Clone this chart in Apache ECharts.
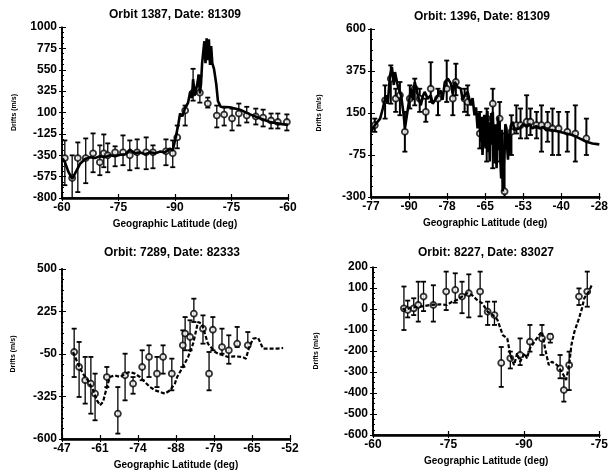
<!DOCTYPE html>
<html><head><meta charset="utf-8">
<script src="https://cdn.jsdelivr.net/npm/echarts@6/dist/echarts.min.js"></script>
<style>html,body{margin:0;padding:0;background:#fff}#c{width:611px;height:473px}</style>
</head><body><div id="c"></div>
<script>
// ---------- Panel 1 ----------
const p1Title = 'Orbit 1387, Date: 81309';
const p1XTicks = ['-60','-75','-90','-75','-60'];
const p1YRange = [-800, 1000, 225];
const p1Line = [[0,-380],[0.05,-420],[0.11,-520],[0.18,-600],[0.25,-520],[0.32,-440],[0.41,-390],[0.50,-370],[0.58,-380],[0.67,-360],[0.76,-370],[0.85,-350],[0.94,-360],[1.03,-345],[1.12,-340],[1.20,-290],[1.29,-330],[1.38,-320],[1.47,-340],[1.56,-320],[1.65,-330],[1.74,-310],[1.82,-320],[1.91,-280],[1.96,-300],[2.02,-140],[2.06,-20],[2.09,90],[2.13,60],[2.18,150],[2.23,200],[2.27,320],[2.30,250],[2.32,450],[2.35,280],[2.37,330],[2.40,420],[2.42,500],[2.44,300],[2.46,400],[2.48,620],[2.50,600],[2.52,850],[2.54,620],[2.56,880],[2.58,650],[2.60,870],[2.62,600],[2.64,800],[2.66,620],[2.69,560],[2.73,400],[2.76,220],[2.81,160],[2.97,155],[3.15,130],[3.33,80],[3.50,40],[3.68,0],[3.86,-20],[4.0,-30]];
const p1Bars = [[0.05,-380,-194,-665],[0.18,-590,-351,-800],[0.28,-380,-215,-738],[0.42,-380,-173,-644],[0.55,-330,-120,-529],[0.67,-424,-246,-560],[0.74,-330,-131,-476],[0.81,-351,-225,-529],[0.94,-319,-256,-466],[1.08,-319,-141,-455],[1.20,-351,-194,-508],[1.33,-319,-183,-487],[1.49,-319,-162,-497],[1.61,-319,-246,-487],[1.84,-309,-183,-455],[1.96,-330,-194,-476],[2.04,-162,-37,-277],[2.18,121,173,-37],[2.32,309,560,225],[2.44,309,487,204],[2.58,194,257,152],[2.74,68,173,-57],[2.87,78,152,-37],[3.01,37,141,-89],[3.13,89,194,-37],[3.27,68,160,-5],[3.43,58,141,-26],[3.56,47,130,-47],[3.70,16,89,-68],[3.82,0,89,-68],[3.98,0,80,-89]];

// ---------- Panel 2 ----------
const p2Title = 'Orbit: 1396, Date: 81309';
const p2XTicks = ['-77','-90','-78','-65','-53','-40','-28'];
const p2YRange = [-300, 600, 225];
const p2Line = [[0,49],[0.10,85],[0.24,120],[0.31,174],[0.39,245],[0.44,200],[0.50,351],[0.55,396],[0.60,300],[0.63,369],[0.71,289],[0.79,245],[0.86,138],[0.89,67],[0.97,174],[1.05,280],[1.10,220],[1.15,316],[1.23,245],[1.31,191],[1.36,240],[1.41,263],[1.49,227],[1.57,245],[1.62,200],[1.68,218],[1.76,245],[1.83,271],[1.88,220],[1.94,316],[2.02,334],[2.10,307],[2.15,250],[2.20,316],[2.28,289],[2.36,280],[2.41,220],[2.46,245],[2.54,263],[2.62,191],[2.67,230],[2.72,138],[2.76,180],[2.80,67],[2.84,150],[2.88,-4],[2.91,130],[2.93,-75],[2.96,110],[2.98,140],[3.01,-40],[3.04,120],[3.06,160],[3.08,-60],[3.10,100],[3.12,-110],[3.14,60],[3.16,150],[3.18,-20],[3.20,156],[3.22,40],[3.25,-120],[3.27,90],[3.30,-146],[3.32,40],[3.34,130],[3.36,-50],[3.38,103],[3.40,-100],[3.42,-200],[3.44,60],[3.46,-270],[3.48,-150],[3.51,-50],[3.53,90],[3.56,67],[3.58,-40],[3.60,-100],[3.62,40],[3.64,-75],[3.67,80],[3.72,103],[3.77,60],[3.82,67],[3.90,67],[4.00,90],[4.09,76],[4.17,90],[4.24,67],[4.34,80],[4.43,67],[4.52,75],[4.61,58],[4.77,58],[4.95,49],[5.13,40],[5.29,32],[5.48,14],[5.66,-4],[5.82,-13],[6.0,-18]];
const p2Bars = [[0.10,85,120,49],[0.37,218,298,120],[0.52,334,405,200],[0.65,227,280,156],[0.76,245,316,138],[0.89,49,156,-57],[1.02,227,298,174],[1.15,280,334,191],[1.28,227,280,156],[1.44,156,227,103],[1.57,280,422,209],[1.76,227,280,138],[1.99,280,431,209],[2.15,227,298,138],[2.23,316,414,245],[2.46,227,280,156],[2.54,209,298,138],[2.86,40,156,-40],[3.04,120,174,-110],[3.20,200,280,-146],[3.38,120,209,-110],[3.51,-270,40,-300],[3.69,49,138,-75],[3.82,85,191,40],[3.93,85,174,14],[4.09,103,245,14],[4.19,103,174,32],[4.35,85,156,14],[4.48,85,191,-57],[4.64,85,156,-4],[4.77,67,174,-75],[4.93,67,156,-75],[5.16,49,156,-57],[5.37,40,191,-110],[5.66,14,120,-75]];

// ---------- Panel 3 ----------
const p3Title = 'Orbit: 7289, Date: 82333';
const p3XTicks = ['-47','-61','-74','-88','-79','-65','-52'];
const p3YRange = [-600, 500, 275];
const p3Line = [[0.29,-37],[0.42,-113],[0.55,-177],[0.68,-220],[0.82,-285],[0.92,-350],[1.0,-382],[1.08,-360],[1.18,-264],[1.26,-199],[1.39,-188],[1.53,-199],[1.66,-177],[1.79,-166],[1.92,-177],[2.05,-199],[2.18,-231],[2.32,-264],[2.45,-285],[2.58,-296],[2.71,-307],[2.84,-285],[2.97,-242],[3.03,-199],[3.18,-134],[3.32,-69],[3.45,17],[3.58,157],[3.68,146],[3.76,82],[3.84,17],[3.95,-15],[4.03,-37],[4.11,-48],[4.24,-58],[4.37,-69],[4.55,-65],[4.74,-69],[4.84,-80],[4.92,-10],[5.03,50],[5.16,55],[5.29,-15],[5.47,-15],[5.66,-15],[5.82,-11]];
const p3Bars = [[0.32,-37,114,-199],[0.45,-134,28,-328],[0.61,-220,-69,-371],[0.76,-242,-69,-436],[0.87,-307,-177,-479],[1.18,-199,-134,-264],[1.47,-436,-264,-565],[1.66,-188,-48,-350],[1.87,-242,-199,-307],[2.11,-134,-26,-220],[2.29,-69,6,-199],[2.50,-177,-69,-264],[2.66,-69,6,-177],[2.89,-177,-80,-285],[3.18,6,103,-134],[3.24,82,189,-26],[3.37,60,168,-26],[3.47,211,308,157],[3.71,114,200,17],[3.87,-177,-37,-285],[3.97,107,189,-26],[4.21,-5,114,-48],[4.39,-26,71,-113],[4.61,17,125,-5],[4.89,6,92,-5]];

// ---------- Panel 4 ----------
const p4Title = 'Orbit: 8227, Date: 83027';
const p4XTicks = ['-60','-75','-90','-75'];
const p4YRange = [-600, 200, 100];
const p4Line = [[0.39,3],[0.43,-5],[0.50,6],[0.63,11],[0.76,19],[0.89,22],[0.98,19],[1.05,35],[1.11,43],[1.18,59],[1.25,75],[1.31,67],[1.38,43],[1.45,27],[1.52,-13],[1.59,-29],[1.65,-52],[1.72,-124],[1.78,-140],[1.82,-219],[1.87,-267],[1.91,-211],[1.95,-251],[2.01,-211],[2.04,-235],[2.08,-187],[2.14,-156],[2.20,-124],[2.24,-108],[2.28,-187],[2.33,-267],[2.37,-251],[2.44,-267],[2.50,-298],[2.56,-338],[2.60,-267],[2.63,-171],[2.67,-108],[2.73,-45],[2.77,3],[2.80,51],[2.86,83],[2.90,114]];
const p4Bars = [[0.41,3,107,-100],[0.46,-5,40,-40],[0.54,3,51,-29],[0.60,19,130,-60],[0.67,59,130,-10],[0.80,19,113,-60],[0.97,83,178,-5],[1.09,91,170,30],[1.18,59,130,-20],[1.27,75,165,-40],[1.42,83,178,-35],[1.52,-13,35,-76],[1.61,-29,35,-76],[1.70,-257,-181,-371],[1.82,-235,-203,-283],[1.95,-219,-140,-267],[2.08,-156,-76,-203],[2.24,-140,-76,-219],[2.35,-132,-120,-160],[2.48,-283,-219,-330],[2.53,-386,-330,-441],[2.60,-267,-203,-386],[2.73,59,98,19],[2.84,83,178,11]];

const panels = [
  {title:p1Title, xt:p1XTicks, yr:p1YRange, line:p1Line, bars:p1Bars, box:[62,27,226,171], tx:175, ty:15, yGap:44, dash:false, rightDot:true, leftDot:false, bw:1.3},
  {title:p2Title, xt:p2XTicks, yr:p2YRange, line:p2Line, bars:p2Bars, box:[371,29,229,168], tx:482, ty:17, yGap:48, dash:false, rightDot:false, leftDot:false, bw:2},
  {title:p3Title, xt:p3XTicks, yr:p3YRange, line:p3Line, bars:p3Bars, box:[62,269,228,170], tx:172, ty:253, yGap:45, dash:true, rightDot:true, leftDot:true, bw:1.3},
  {title:p4Title, xt:p4XTicks, yr:p4YRange, line:p4Line, bars:p4Bars, box:[373,267,229,168], tx:486, ty:253, yGap:53, dash:true, rightDot:true, leftDot:false, bw:1.3}
];

const FONT = "'Liberation Sans', Arial, sans-serif";
const grids=[], xAxes=[], yAxes=[], series=[], graphics=[];

function makeErr(bw){
  return function(params, api){
    const x = api.value(0);
    const hi = api.coord([x, api.value(1)]);
    const lo = api.coord([x, api.value(2)]);
    const w = 2.5;
    return {type:'group', children:[
      {type:'line', shape:{x1:hi[0],y1:hi[1],x2:lo[0],y2:lo[1]}, style:{stroke:'#000', lineWidth:bw}},
      {type:'line', shape:{x1:hi[0]-w,y1:hi[1],x2:hi[0]+w,y2:hi[1]}, style:{stroke:'#000', lineWidth:1.8}},
      {type:'line', shape:{x1:lo[0]-w,y1:lo[1],x2:lo[0]+w,y2:lo[1]}, style:{stroke:'#000', lineWidth:1.8}}
    ]};
  };
}

panels.forEach((p,i)=>{
  const [l,t,w,h] = p.box;
  const yMin = p.yr[0], ySpan = p.yr[1]-p.yr[0], yStep = p.yr[2];
  const nX = p.xt.length-1;
  grids.push({left:l, top:t, width:w, height:h});
  const xt = p.xt;
  xAxes.push({type:'value', gridIndex:i, min:0, max:nX, interval:1, position:'bottom',
    axisLine:{lineStyle:{color:'#000', width:1.6}},
    axisTick:{inside:true, length:4, lineStyle:{color:'#000', width:1.2}},
    axisLabel:{formatter:v=>xt[Math.round(v)], showMinLabel:true, showMaxLabel:true, color:'#000', fontFamily:FONT, fontWeight:'bold', fontSize:12, margin:4},
    splitLine:{show:false},
    name:'Geographic Latitude (deg)', nameLocation:'middle', nameGap:21,
    nameTextStyle:{color:'#000', fontFamily:FONT, fontWeight:'bold', fontSize:10}});
  xAxes.push({type:'value', gridIndex:i, min:0, max:nX, interval:1, position:'top',
    axisLine:{lineStyle:{color:'#000', width:2.5}},
    axisTick:{inside:true, length:3, lineStyle:{color:'#000'}},
    axisLabel:{show:false}, splitLine:{show:false}});
  yAxes.push({type:'value', gridIndex:i, min:0, max:ySpan, interval:yStep, position:'left',
    axisLine:{show:true, lineStyle:{color:'#000', width:1.6, type:p.leftDot?'dotted':'solid'}},
    axisTick:{show:true, inside:true, length:4, lineStyle:{color:'#000'}},
    minorTick:{show:true, splitNumber:4, length:2, lineStyle:{color:'#000'}},
    axisLabel:{formatter:v=>String(Math.round(v+yMin)), color:'#000', fontFamily:FONT, fontWeight:'bold', fontSize:12, margin:5},
    splitLine:{show:false},
    name:'Drifts (m/s)', nameLocation:'middle', nameGap:p.yGap, nameRotate:90,
    nameTextStyle:{color:'#000', fontFamily:FONT, fontWeight:'bold', fontSize:7}});
  yAxes.push({type:'value', gridIndex:i, min:0, max:ySpan, interval:yStep, position:'right',
    axisLine:{show:true, lineStyle:{color:'#000', width:p.rightDot?2:1.6, type:p.rightDot?'dotted':'solid'}},
    axisTick:{show:true, inside:true, length:3, lineStyle:{color:'#000'}},
    axisLabel:{show:false}, splitLine:{show:false}});
  series.push({type:'line', xAxisIndex:2*i, yAxisIndex:2*i, data:p.line.map(d=>[d[0], d[1]-yMin]),
    symbol:'none', silent:true, animation:false,
    lineStyle:{color:'#000', width:p.dash?2.2:2.6, type:p.dash?[4,2]:'solid'}});
  series.push({type:'custom', xAxisIndex:2*i, yAxisIndex:2*i, renderItem:makeErr(p.bw),
    encode:{x:0, y:[1,2]}, data:p.bars.map(b=>[b[0], b[2]-yMin, b[3]-yMin]), animation:false, silent:true});
  series.push({type:'scatter', xAxisIndex:2*i, yAxisIndex:2*i, data:p.bars.map(b=>[b[0], b[1]-yMin]),
    symbol:'circle', symbolSize:6, animation:false, silent:true,
    itemStyle:{color:'#fff', borderColor:'#000', borderWidth:1.8}});
  graphics.push({type:'text', x:p.tx, y:p.ty, style:{text:p.title, fill:'#000', font:"bold 12px "+FONT, align:'center', verticalAlign:'middle'}});
});

const chart = echarts.init(document.getElementById('c'), null, {renderer:'canvas'});
chart.setOption({animation:false, backgroundColor:'#fff', grid:grids, xAxis:xAxes, yAxis:yAxes, series:series, graphic:graphics});
</script></body></html>
